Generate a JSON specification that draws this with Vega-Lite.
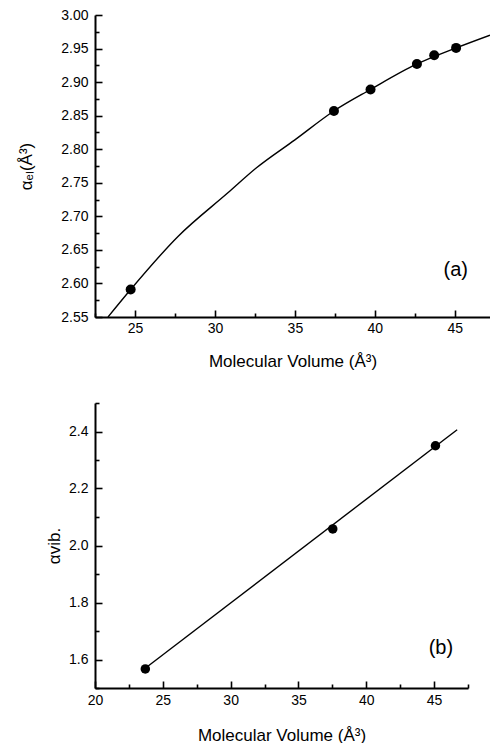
{
  "$schema": "https://vega.github.io/schema/vega-lite/v6.json",
  "background": "white",
  "padding": {"left": 17, "top": 8, "right": 0, "bottom": 0},
  "bounds": "flush",
  "spacing": 86,
  "config": {
    "view": {"stroke": null},
    "font": "Liberation Sans",
    "axis": {
      "grid": false,
      "domainColor": "#000000",
      "domainWidth": 2,
      "tickColor": "#000000",
      "tickWidth": 1.6,
      "labelColor": "#000000",
      "labelFont": "Liberation Sans",
      "labelFontSize": 14,
      "labelFlush": false,
      "labelOverlap": false,
      "labelBound": false,
      "titleFont": "Liberation Sans",
      "titleColor": "#000000",
      "titleFontWeight": "normal"
    }
  },
  "datasets": {
    "topCurve": [
      {"x": 23.31, "y": 2.55},
      {"x": 24.73, "y": 2.591},
      {"x": 27.69, "y": 2.67},
      {"x": 30.81, "y": 2.735},
      {"x": 32.58, "y": 2.772},
      {"x": 35.0, "y": 2.814},
      {"x": 37.44, "y": 2.857},
      {"x": 39.73, "y": 2.889},
      {"x": 42.63, "y": 2.927},
      {"x": 45.08, "y": 2.951},
      {"x": 47.2, "y": 2.97}
    ],
    "topPoints": [
      {"x": 24.73, "y": 2.591},
      {"x": 37.44, "y": 2.857},
      {"x": 39.73, "y": 2.889},
      {"x": 42.63, "y": 2.927},
      {"x": 43.71, "y": 2.94},
      {"x": 45.08, "y": 2.951}
    ],
    "topLabel": [{"x": 45.06, "y": 2.62, "label": "(a)"}],
    "botLine": [
      {"x": 23.8, "y": 1.573},
      {"x": 46.7, "y": 2.406}
    ],
    "botPoints": [
      {"x": 23.71, "y": 1.567},
      {"x": 37.53, "y": 2.058},
      {"x": 45.1, "y": 2.35}
    ],
    "botLabel": [{"x": 45.5, "y": 1.64, "label": "(b)"}]
  },
  "vconcat": [
    {
      "width": 395,
      "height": 302,
      "resolve": {"axis": {"x": "independent", "y": "independent"}},
      "layer": [
        {
          "data": {"name": "topPoints"},
          "mark": {"type": "point", "opacity": 0},
          "encoding": {
            "x": {
              "field": "x", "type": "quantitative",
              "scale": {"domain": [22.5, 47.2], "nice": false, "zero": false},
              "axis": {"orient": "bottom", "domain": true, "domainColor": "#000000", "ticks": false, "labels": false, "title": null}
            },
            "y": {
              "field": "y", "type": "quantitative",
              "scale": {"domain": [2.55, 3.0], "nice": false, "zero": false},
              "axis": {"orient": "left", "domain": true, "domainColor": "#000000", "ticks": false, "labels": false, "title": null}
            }
          }
        },
        {
          "data": {"name": "topPoints"},
          "mark": {"type": "point", "opacity": 0},
          "encoding": {
            "x": {
              "field": "x", "type": "quantitative",
              "axis": {"orient": "bottom", "offset": -4, "values": [22.5, 27.5, 32.5, 37.5, 42.5], "labels": false, "domain": false, "tickSize": 4, "tickColor": "#000000", "title": null}
            },
            "y": {
              "field": "y", "type": "quantitative",
              "axis": {"orient": "left", "offset": -4, "values": [2.575, 2.625, 2.675, 2.725, 2.775, 2.825, 2.875, 2.925, 2.975], "labels": false, "domain": false, "tickSize": 4, "tickColor": "#000000", "title": null}
            }
          }
        },
        {
          "data": {"name": "topCurve"},
          "mark": {"type": "line", "color": "black", "strokeWidth": 1.4, "clip": true, "interpolate": "monotone"},
          "encoding": {
            "x": {
              "field": "x", "type": "quantitative",
              "axis": {
                "orient": "bottom",
                "offset": -7,
                "domain": false,
                "values": [25, 30, 35, 40, 45],
                "format": "d",
                "tickSize": 7,
                "tickColor": "#000000",
                "labelPadding": 4,
                "title": "Molecular Volume (Å³)",
                "titleFontSize": 17,
                "titlePadding": 18
              }
            },
            "y": {
              "field": "y", "type": "quantitative",
              "axis": {
                "orient": "left",
                "offset": -7,
                "domain": false,
                "values": [2.55, 2.6, 2.65, 2.7, 2.75, 2.8, 2.85, 2.9, 2.95, 3.0],
                "format": ".2f",
                "tickSize": 7,
                "tickColor": "#000000",
                "labelPadding": 7,
                "title": "αₑₗ(Å³)",
                "titleFontSize": 17,
                "titlePadding": 25
              }
            }
          }
        },
        {
          "data": {"name": "topPoints"},
          "mark": {"type": "point", "filled": true, "color": "black", "size": 100, "opacity": 1},
          "encoding": {
            "x": {"field": "x", "type": "quantitative", "axis": null},
            "y": {"field": "y", "type": "quantitative", "axis": null}
          }
        },
        {
          "data": {"name": "topLabel"},
          "mark": {"type": "text", "fontSize": 20, "font": "Liberation Sans", "color": "black"},
          "encoding": {
            "x": {"field": "x", "type": "quantitative", "axis": null},
            "y": {"field": "y", "type": "quantitative", "axis": null},
            "text": {"field": "label"}
          }
        }
      ]
    },
    {
      "width": 373,
      "height": 285,
      "resolve": {"axis": {"x": "independent", "y": "independent"}},
      "layer": [
        {
          "data": {"name": "botPoints"},
          "mark": {"type": "point", "opacity": 0},
          "encoding": {
            "x": {
              "field": "x", "type": "quantitative",
              "scale": {"domain": [20, 47.5], "nice": false, "zero": false},
              "axis": {"orient": "bottom", "domain": true, "domainColor": "#000000", "ticks": false, "labels": false, "title": null}
            },
            "y": {
              "field": "y", "type": "quantitative",
              "scale": {"domain": [1.5, 2.5], "nice": false, "zero": false},
              "axis": {"orient": "left", "domain": true, "domainColor": "#000000", "ticks": false, "labels": false, "title": null}
            }
          }
        },
        {
          "data": {"name": "botPoints"},
          "mark": {"type": "point", "opacity": 0},
          "encoding": {
            "x": {
              "field": "x", "type": "quantitative",
              "axis": {"orient": "bottom", "offset": -4, "values": [22.5, 27.5, 32.5, 37.5, 42.5, 47.5], "labels": false, "domain": false, "tickSize": 4, "tickColor": "#000000", "title": null}
            },
            "y": {
              "field": "y", "type": "quantitative",
              "axis": {"orient": "left", "offset": -4, "values": [1.5, 1.7, 1.9, 2.1, 2.3, 2.5], "labels": false, "domain": false, "tickSize": 4, "tickColor": "#000000", "title": null}
            }
          }
        },
        {
          "data": {"name": "botLine"},
          "mark": {"type": "line", "color": "black", "strokeWidth": 1.4, "clip": true},
          "encoding": {
            "x": {
              "field": "x", "type": "quantitative",
              "axis": {
                "orient": "bottom",
                "offset": -7,
                "domain": false,
                "values": [20, 25, 30, 35, 40, 45],
                "format": "d",
                "tickSize": 7,
                "tickColor": "#000000",
                "labelPadding": 5,
                "title": "Molecular Volume (Å³)",
                "titleFontSize": 17,
                "titlePadding": 20
              }
            },
            "y": {
              "field": "y", "type": "quantitative",
              "axis": {
                "orient": "left",
                "offset": -7,
                "domain": false,
                "values": [1.6, 1.8, 2.0, 2.2, 2.4],
                "format": ".1f",
                "tickSize": 7,
                "tickColor": "#000000",
                "labelPadding": 7,
                "title": "αvib.",
                "titleFontSize": 17,
                "titlePadding": 5
              }
            }
          }
        },
        {
          "data": {"name": "botPoints"},
          "mark": {"type": "point", "filled": true, "color": "black", "size": 90, "opacity": 1},
          "encoding": {
            "x": {"field": "x", "type": "quantitative", "axis": null},
            "y": {"field": "y", "type": "quantitative", "axis": null}
          }
        },
        {
          "data": {"name": "botLabel"},
          "mark": {"type": "text", "fontSize": 20, "font": "Liberation Sans", "color": "black"},
          "encoding": {
            "x": {"field": "x", "type": "quantitative", "axis": null},
            "y": {"field": "y", "type": "quantitative", "axis": null},
            "text": {"field": "label"}
          }
        }
      ]
    }
  ]
}
